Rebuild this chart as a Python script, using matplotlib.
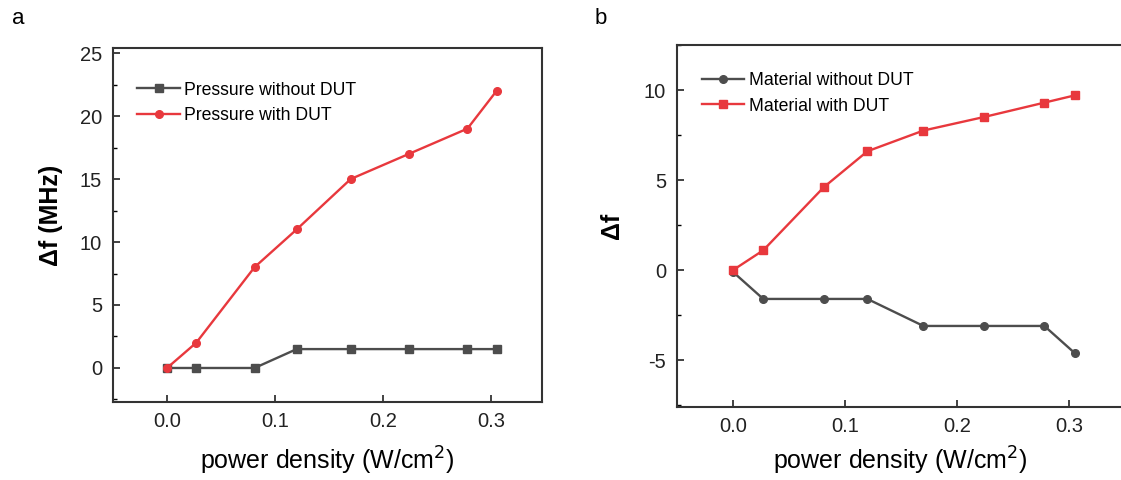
import matplotlib.pyplot as plt
from matplotlib.ticker import MultipleLocator

plt.rcParams['font.family'] = ['Liberation Sans', 'DejaVu Sans']
plt.rcParams['axes.unicode_minus'] = False

# power density (W/cm^2)
power = [0, 0.027, 0.081, 0.12, 0.17, 0.224, 0.278, 0.305]

# panel a: pressure
press_without = [0, 0, 0, 1.5, 1.5, 1.5, 1.5, 1.5]
press_with = [0, 2, 8, 11, 15, 17, 19, 22]

# panel b: material
mat_without = [-0.1, -1.6, -1.6, -1.6, -3.1, -3.1, -3.1, -4.6]
mat_with = [0, 1.1, 4.6, 6.6, 7.75, 8.5, 9.3, 9.7]

gray = '#4d4d4d'
red = '#e8383d'

fig = plt.figure(figsize=(11.21, 4.8), dpi=100)
W, H = 1121, 480
axa = fig.add_axes([113 / W, (H - 402) / H, 429 / W, 354 / H])
axb = fig.add_axes([677 / W, (H - 407) / H, 448 / W, 362 / H])

axa.plot(power, press_without, color=gray, marker='s', ms=5.5, lw=1.7, label='Pressure without DUT')
axa.plot(power, press_with, color=red, marker='o', ms=5.5, lw=1.7, label='Pressure with DUT')
axa.set_xlim(-0.05, 0.347)
axa.set_ylim(-2.7, 25.4)
axa.yaxis.set_major_locator(MultipleLocator(5))
axa.yaxis.set_minor_locator(MultipleLocator(2.5))
axa.set_ylabel('Δf (MHz)', fontsize=18, fontweight='bold')
axa.yaxis.set_label_coords(-0.117, 0.528)

axb.plot(power, mat_without, color=gray, marker='o', ms=5.5, lw=1.7, label='Material without DUT')
axb.plot(power, mat_with, color=red, marker='s', ms=5.5, lw=1.7, label='Material with DUT')
axb.set_xlim(-0.05, 0.35)
axb.set_ylim(-7.6, 12.5)
axb.yaxis.set_major_locator(MultipleLocator(5))
axb.yaxis.set_minor_locator(MultipleLocator(2.5))
axb.set_ylabel('Δf', fontsize=18, fontweight='bold', labelpad=14)

for ax in (axa, axb):
    ax.xaxis.set_major_locator(MultipleLocator(0.1))
    ax.xaxis.set_major_formatter(plt.FuncFormatter(lambda v, p: '%.1f' % v))
    ax.tick_params(direction='in', labelsize=14.5, length=5, width=1.2, colors='#222222', pad=8)
    ax.tick_params(axis='x', pad=7)
    ax.tick_params(which='minor', direction='in', length=3, width=1.0)
    ax.tick_params(axis='x', which='minor', length=0)
    ax.set_xlabel('power density (W/cm$^2$)', fontsize=18, va='center')
    for s in ax.spines.values():
        s.set_linewidth(1.5)
        s.set_color('#333333')

axa.legend(loc='upper left', frameon=False, fontsize=12.7, handlelength=2.4,
           handletextpad=0.25, labelspacing=0.5, bbox_to_anchor=(0.02, 0.95))
axb.legend(loc='upper left', frameon=False, fontsize=12.7, handlelength=2.4,
           handletextpad=0.25, labelspacing=0.5, bbox_to_anchor=(0.02, 0.97))

# x labels placed where the reference has them (right panel is cropped at the edge)
axa.xaxis.set_label_coords(0.5, -0.167)
axb.xaxis.set_label_coords((900 - 677) / 448, -0.149)

fig.text(12 / W, 1 - 18 / H, 'a', fontsize=16, va='center')
fig.text(595 / W, 1 - 18 / H, 'b', fontsize=16, va='center')

fig.savefig('out.png', dpi=100)
